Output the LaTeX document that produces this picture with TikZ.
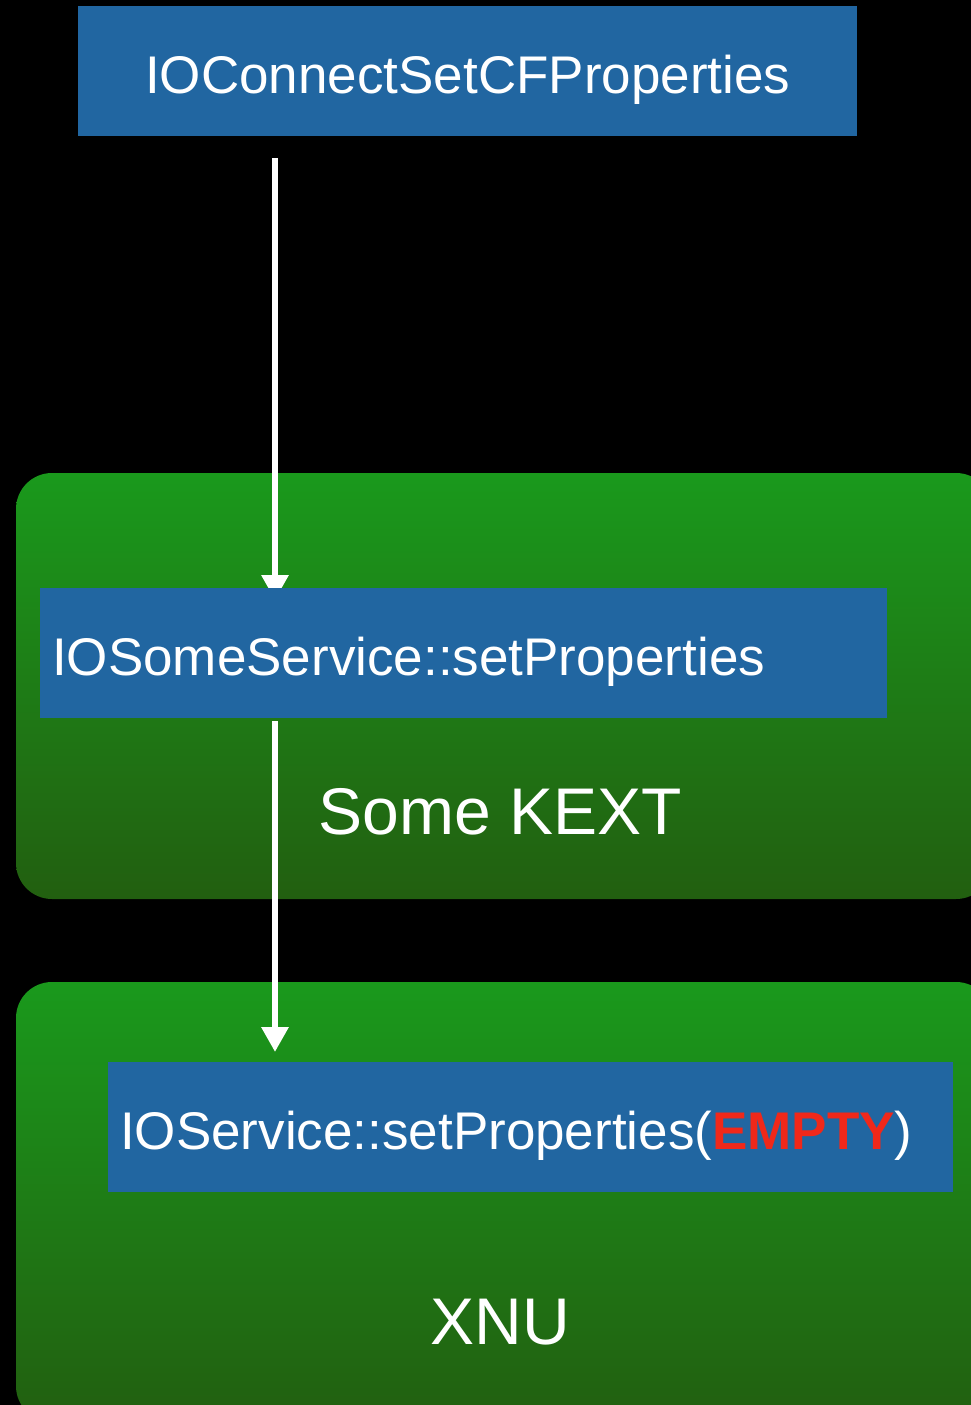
\documentclass[tikz,border=0pt]{standalone}
\usepackage{fontspec}
\setmainfont{Liberation Sans}
\usetikzlibrary{arrows.meta,backgrounds}
\definecolor{callblue}{HTML}{2166A1}
\definecolor{greentop}{HTML}{1A991C}
\definecolor{greenbot}{HTML}{225F10}
\definecolor{alertred}{HTML}{F0281A}
\pgfdeclarelayer{arrowlayer}
\pgfsetlayers{background,arrowlayer,main}
\tikzset{
  callbox/.style={fill=callblue, draw=none, text=white,
    text height=87pt, text depth=43pt,
    inner xsep=12pt, inner ysep=0pt, align=left,
    font=\fontsize{53}{60}\selectfont},
  layerbox/.style={rounded corners=36pt, top color=greentop, bottom color=greenbot, draw=none},
  layerlabel/.style={text=white, font=\fontsize{66}{74}\selectfont},
  flow/.style={draw=white, line width=6pt, -{Triangle[width=26pt,length=25pt]}}
}
\begin{document}
\begin{tikzpicture}[x=1pt,y=-1pt]
  \useasboundingbox (0,0) rectangle (971,1405);
  \clip (0,0) rectangle (971,1405);

  % call chain
  \node[callbox, minimum width=779pt, align=center, anchor=north west] (connect) at (78,6) {IOConnectSetCFProperties};
  \node[callbox, text width=823pt, minimum width=847pt, anchor=north west] (kext) at (40,588) {IOSomeService::setProperties};
  \node[callbox, text width=821pt, minimum width=845pt, anchor=north west] (xnu) at (108,1062) {IOService::setProperties(\textcolor{alertred}{\bfseries EMPTY})};

  % layer labels
  \node[layerlabel] (kextlabel) at (500,812) {Some KEXT};
  \node[layerlabel] (xnulabel) at (500,1322) {XNU};

  % page and component backgrounds
  \begin{pgfonlayer}{background}
    \fill[black] (0,0) rectangle (971,1405);
    \path[layerbox] (16,473) rectangle (992,899);
    \path[layerbox] (16,982) rectangle (992,1422);
  \end{pgfonlayer}

  % calls
  \begin{pgfonlayer}{arrowlayer}
    \draw[flow] ([xshift=197pt,yshift=-22pt]connect.south west) -- ([xshift=235pt,yshift=-12pt]kext.north west);
    \draw[flow] ([xshift=235pt,yshift=-3pt]kext.south west) -- ([xshift=167pt,yshift=10pt]xnu.north west);
  \end{pgfonlayer}
\end{tikzpicture}
\end{document}
